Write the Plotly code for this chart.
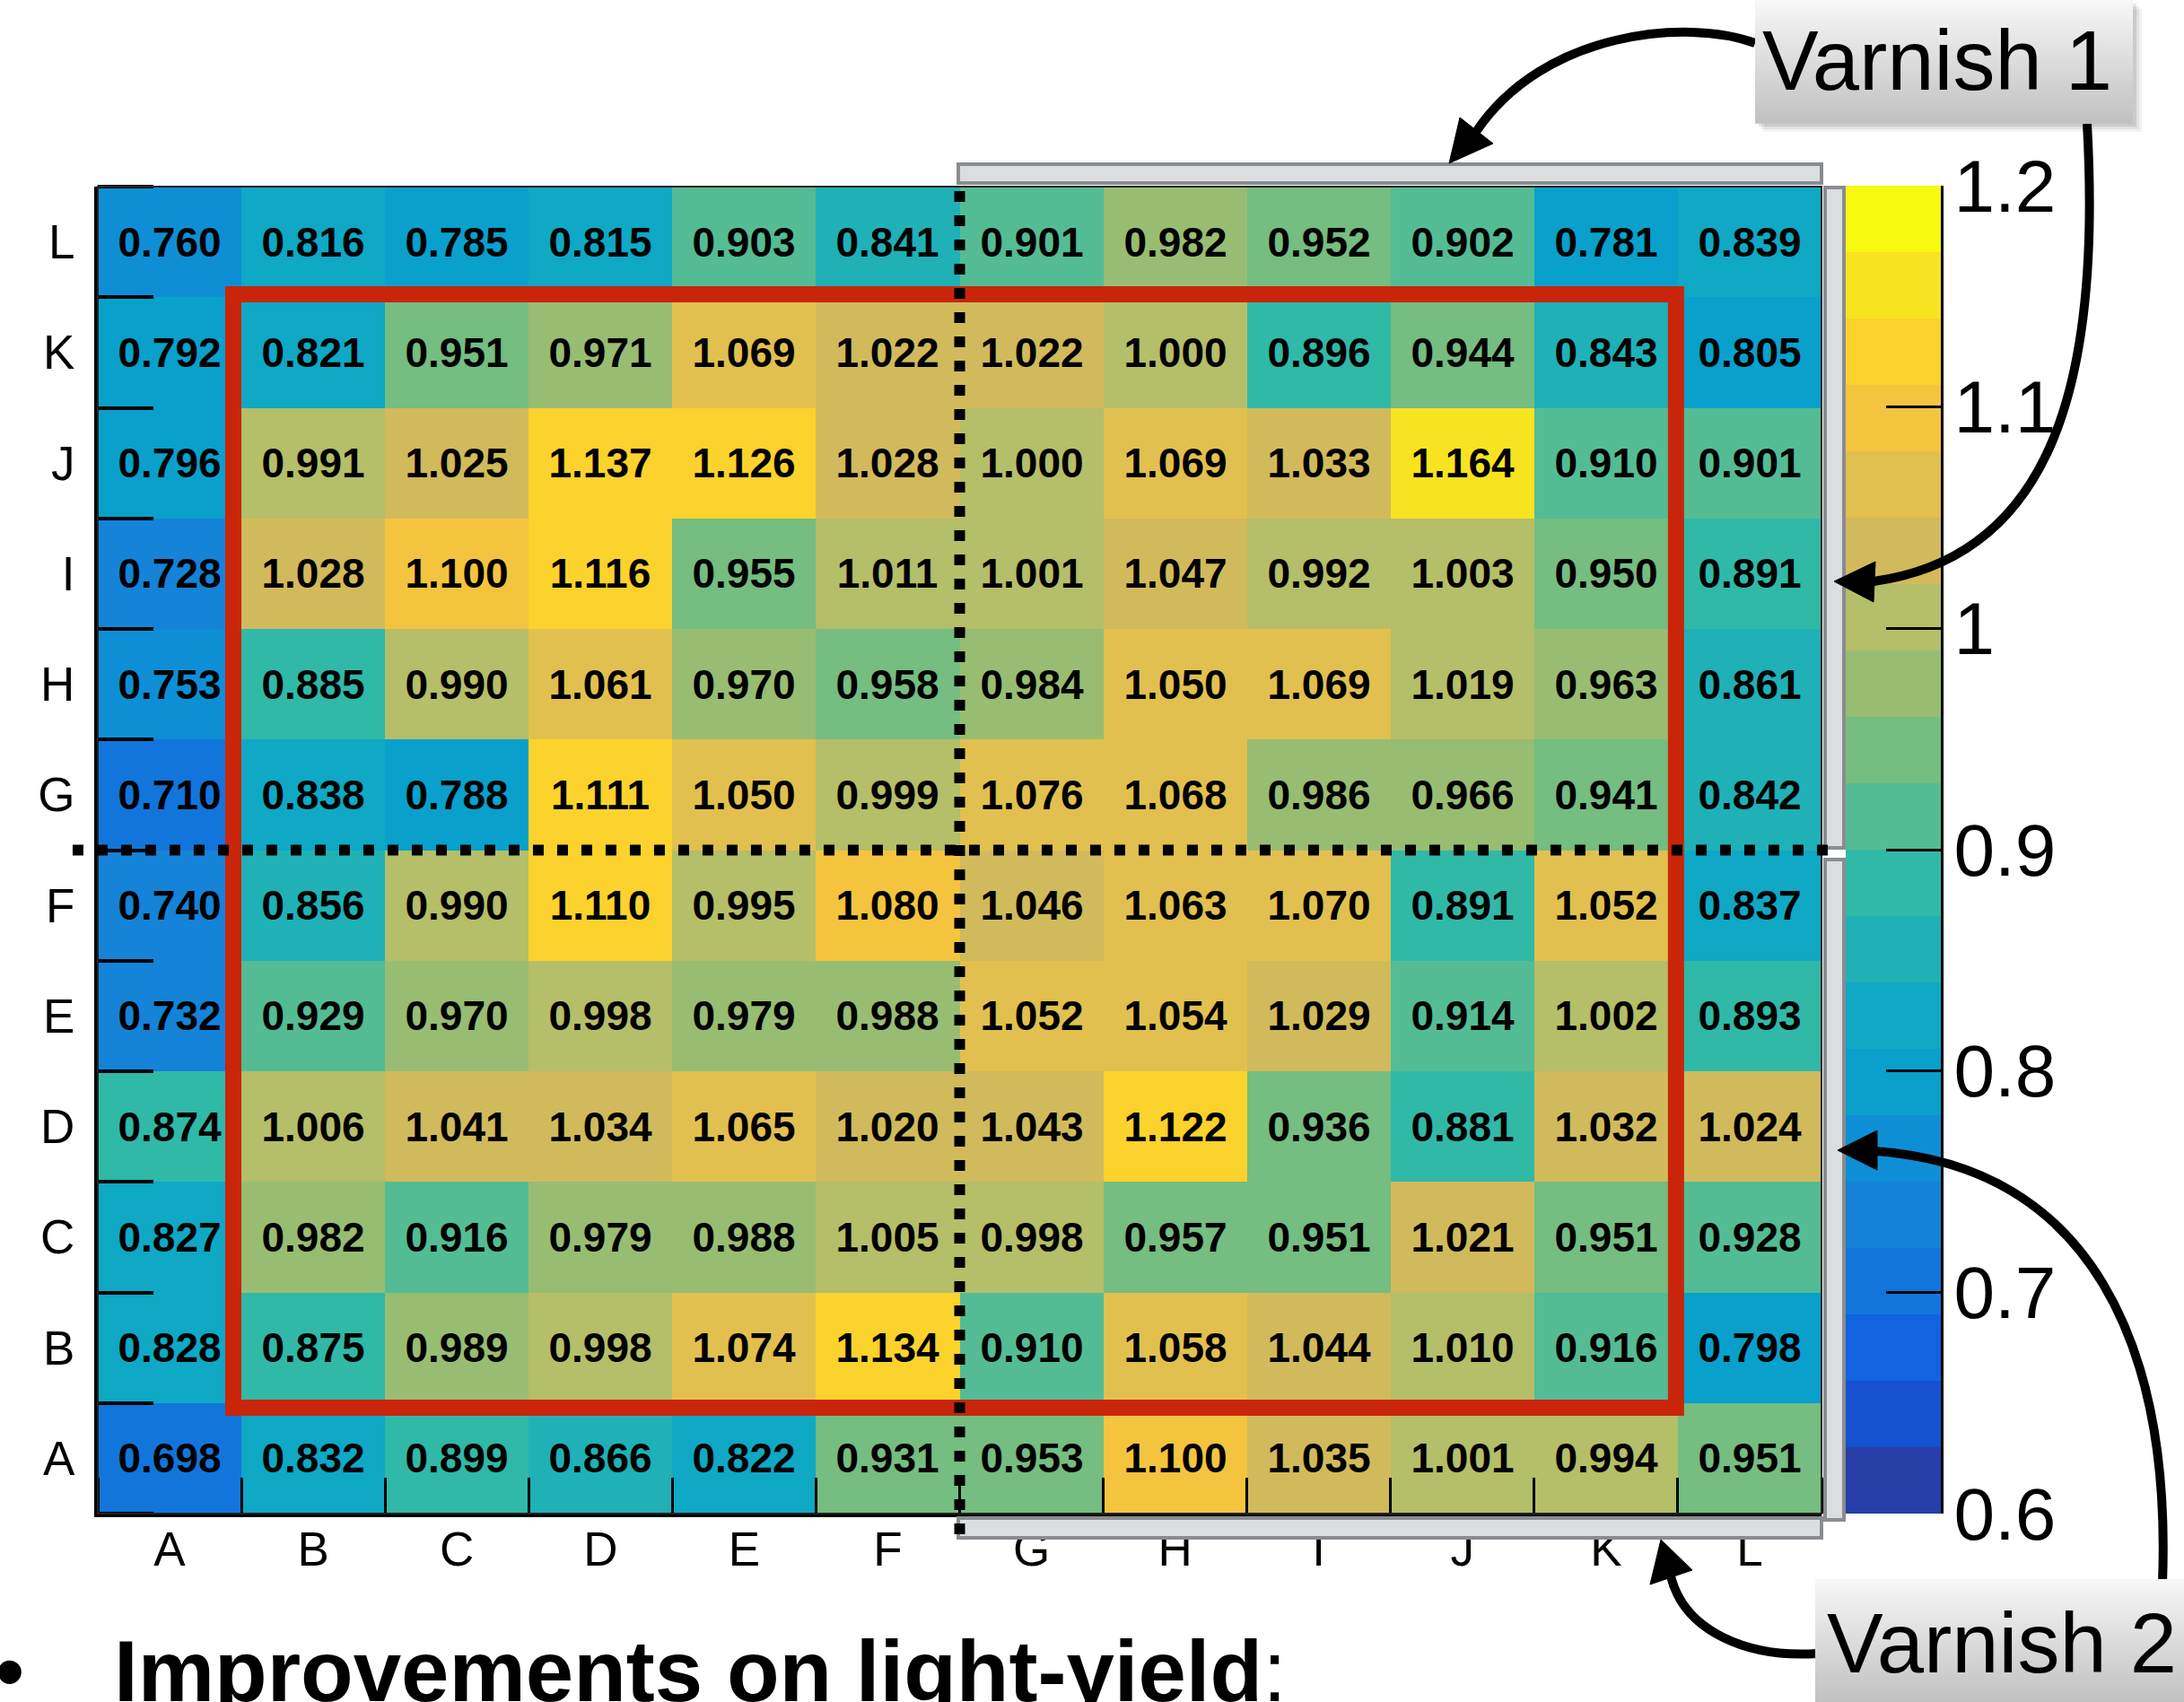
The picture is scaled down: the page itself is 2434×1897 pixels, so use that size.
import plotly.graph_objects as go

W, H = 2434, 1897
FONT = "Liberation Sans, Arial, Helvetica, sans-serif"

# ---------------- data ----------------
col_labels = ["A", "B", "C", "D", "E", "F", "G", "H", "I", "J", "K", "L"]
row_labels = ["A", "B", "C", "D", "E", "F", "G", "H", "I", "J", "K", "L"]  # bottom -> top

row_A = [0.698, 0.832, 0.899, 0.866, 0.822, 0.931, 0.953, 1.100, 1.035, 1.001, 0.994, 0.951]
row_B = [0.828, 0.875, 0.989, 0.998, 1.074, 1.134, 0.910, 1.058, 1.044, 1.010, 0.916, 0.798]
row_C = [0.827, 0.982, 0.916, 0.979, 0.988, 1.005, 0.998, 0.957, 0.951, 1.021, 0.951, 0.928]
row_D = [0.874, 1.006, 1.041, 1.034, 1.065, 1.020, 1.043, 1.122, 0.936, 0.881, 1.032, 1.024]
row_E = [0.732, 0.929, 0.970, 0.998, 0.979, 0.988, 1.052, 1.054, 1.029, 0.914, 1.002, 0.893]
row_F = [0.740, 0.856, 0.990, 1.110, 0.995, 1.080, 1.046, 1.063, 1.070, 0.891, 1.052, 0.837]
row_G = [0.710, 0.838, 0.788, 1.111, 1.050, 0.999, 1.076, 1.068, 0.986, 0.966, 0.941, 0.842]
row_H = [0.753, 0.885, 0.990, 1.061, 0.970, 0.958, 0.984, 1.050, 1.069, 1.019, 0.963, 0.861]
row_I = [0.728, 1.028, 1.100, 1.116, 0.955, 1.011, 1.001, 1.047, 0.992, 1.003, 0.950, 0.891]
row_J = [0.796, 0.991, 1.025, 1.137, 1.126, 1.028, 1.000, 1.069, 1.033, 1.164, 0.910, 0.901]
row_K = [0.792, 0.821, 0.951, 0.971, 1.069, 1.022, 1.022, 1.000, 0.896, 0.944, 0.843, 0.805]
row_L = [0.760, 0.816, 0.785, 0.815, 0.903, 0.841, 0.901, 0.982, 0.952, 0.902, 0.781, 0.839]

z_rows = [row_A, row_B, row_C, row_D, row_E, row_F, row_G, row_H, row_I, row_J, row_K, row_L]

z_min, z_max = 0.6, 1.2
cb_tickvals = [0.6, 0.7, 0.8, 0.9, 1.0, 1.1, 1.2]
cb_ticktext = ["0.6", "0.7", "0.8", "0.9", "1", "1.1", "1.2"]

# ---------------- style ----------------
band_colors = [
    "#263EA8", "#1651CF", "#1163DF", "#1275DC", "#1483D8",
    "#0E8FD5", "#09A0CC", "#0FA8C5", "#1FB1B6", "#30B9A7",
    "#54BC94", "#75BD80", "#98BD72", "#B5BE68", "#D1BA5B",
    "#E2C04F", "#F4C43F", "#FCD22D", "#F8E320", "#F7F90F",
]
n_bands = len(band_colors)
eps = 1e-6
colorscale = []
for i, c in enumerate(band_colors):
    lo = 0.0 if i == 0 else i / n_bands - eps
    hi = 1.0 if i == n_bands - 1 else (i + 1) / n_bands - eps
    colorscale.append([lo, c])
    colorscale.append([hi, c])

# colour key (palette drawn as its own heatmap so annotations can sit above it)
band_step = (z_max - z_min) / n_bands
key_edges = [z_min + band_step * i for i in range(n_bands + 1)]
key_z = [[z_min + band_step * (i + 0.5)] for i in range(n_bands)]

# plot geometry in pixels
PL, PR, PT, PB = 109, 2030, 208, 1687
CL, CR, CT, CB = 2057, 2163, 207, 1687


def px(x):
    return x / W


def py(y):
    return 1 - y / H


def P(x, y):
    return f"{px(x):.6f},{py(y):.6f}"


fig = go.Figure()
fig.add_trace(go.Heatmap(
    z=z_rows,
    x=list(range(len(col_labels))),
    y=list(range(len(row_labels))),
    zmin=z_min, zmax=z_max,
    colorscale=colorscale, showscale=False,
    texttemplate="%{z:.3f}",
    textfont=dict(family=FONT, size=46, color="black", weight="bold"),
    hoverinfo="skip",
))
fig.add_trace(go.Heatmap(
    z=key_z, x=[0, 1], y=key_edges,
    zmin=z_min, zmax=z_max, colorscale=colorscale, showscale=False,
    hoverinfo="skip", xaxis="x2", yaxis="y2",
))

shapes = []
annotations = []

# red rectangle (data coordinates)
shapes.append(dict(type="rect", xref="x", yref="y", x0=0.443, x1=10.487, y0=0.457, y1=10.526,
                   line=dict(color="#C9250B", width=18), fillcolor="rgba(0,0,0,0)", layer="above"))

# plot frame
shapes.append(dict(type="rect", xref="x domain", yref="y domain", x0=0, x1=1, y0=0, y1=1,
                   line=dict(color="#222222", width=2), fillcolor="rgba(0,0,0,0)", layer="above"))

# varnish bars
bar_fill, bar_line = "#DCDDDF", "#898C90"
for (x0, y0, x1, y1) in [(1068, 183, 2030, 204), (2034, 209, 2055, 945),
                         (2034, 958, 2055, 1694), (1068, 1692, 2030, 1714)]:
    shapes.append(dict(type="rect", xref="paper", yref="paper",
                       x0=px(x0), x1=px(x1), y0=py(y1), y1=py(y0),
                       fillcolor=bar_fill, line=dict(color=bar_line, width=4), layer="above"))

# dotted separators
dots = dict(color="black", width=12, dash="12px,15px")
shapes.append(dict(type="line", xref="x domain", yref="y domain", x0=0.5, x1=0.5,
                   y0=-0.0156, y1=1.0054, line=dots, layer="above"))
shapes.append(dict(type="line", xref="x domain", yref="y domain", x0=-0.0146, x1=1.0083,
                   y0=0.5, y1=0.5, line=dots, layer="above"))

# arrows
arrow_line = dict(color="black", width=10)
curves = [
    [(1956, 48), (1880, 20), (1720, 35), (1645, 147)],
    [(2326, 138), (2342, 420), (2290, 620), (2088, 648)],
    [(2025, 1843), (1950, 1848), (1878, 1820), (1862, 1757)],
    [(2410, 1765), (2420, 1500), (2330, 1300), (2090, 1283)],
]
heads = [
    [(1615, 182), (1627, 131), (1664, 160)],
    [(2044, 648), (2090, 626), (2088, 671)],
    [(1851, 1716), (1839, 1766), (1886, 1750)],
    [(2048, 1282), (2092, 1260), (2092, 1304)],
]
for c in curves:
    path = f"M {P(*c[0])} C {P(*c[1])} {P(*c[2])} {P(*c[3])}"
    shapes.append(dict(type="path", xref="paper", yref="paper", path=path,
                       line=arrow_line, layer="above"))
for h in heads:
    path = f"M {P(*h[0])} L {P(*h[1])} L {P(*h[2])} Z"
    shapes.append(dict(type="path", xref="paper", yref="paper", path=path,
                       fillcolor="black", line=dict(color="black", width=1), layer="above"))


def gradient_box(x0, y0, x1, y1, full_h, n=40):
    top = (247, 247, 247)
    bot = (192, 192, 192)
    for k, a in [(10, 0.05), (7, 0.07), (4, 0.09)]:
        shapes.append(dict(type="rect", xref="paper", yref="paper",
                           x0=px(x0 + k), x1=px(x1 + k), y0=py(y1 + k), y1=py(y0 + k),
                           fillcolor=f"rgba(0,0,0,{a})", line=dict(width=0), layer="above"))
    for i in range(n):
        ya = y0 + (y1 - y0) * i / n
        yb = y0 + (y1 - y0) * (i + 1) / n + 0.8
        t = min(1.0, (ya - y0) / full_h)
        col = "rgb({},{},{})".format(*[round(a + (b - a) * t) for a, b in zip(top, bot)])
        shapes.append(dict(type="rect", xref="paper", yref="paper",
                           x0=px(x0), x1=px(x1), y0=py(yb), y1=py(ya),
                           fillcolor=col, line=dict(width=0), layer="above"))


gradient_box(1956, 0, 2377, 137, 137)
gradient_box(2023, 1760, 2444, 1900, 137)

annotations.append(dict(text="Varnish 1", xref="paper", yref="paper", x=px(1962), y=py(67),
                        xanchor="left", yanchor="middle", showarrow=False,
                        font=dict(family=FONT, size=94, color="black")))
annotations.append(dict(text="Varnish 2", xref="paper", yref="paper", x=px(2034), y=py(1831),
                        xanchor="left", yanchor="middle", showarrow=False,
                        font=dict(family=FONT, size=94, color="black")))
annotations.append(dict(text="<b>Improvements on light-yield</b>:", xref="paper", yref="paper",
                        x=px(125), y=py(1862), xanchor="left", yanchor="middle", showarrow=False,
                        font=dict(family=FONT, size=96, color="black")))
annotations.append(dict(text="•", xref="paper", yref="paper",
                        x=px(-8), y=py(1862), xanchor="left", yanchor="middle", showarrow=False,
                        font=dict(family=FONT, size=96, color="black")))

fig.update_layout(
    width=W, height=H,
    margin=dict(l=0, r=0, t=0, b=0, pad=0, autoexpand=False),
    paper_bgcolor="white", plot_bgcolor="white",
    showlegend=False,
    shapes=shapes, annotations=annotations,
    xaxis=dict(
        domain=[px(PL), px(PR)], range=[-0.5, 11.5], fixedrange=True, automargin=False,
        tickmode="array", tickvals=list(range(len(col_labels))), ticktext=col_labels,
        ticks="", showgrid=False, zeroline=False,
        showline=True, linewidth=4, linecolor="black",
        tickfont=dict(family=FONT, size=53, color="black"),
        ticklabelstandoff=-10,
        minor=dict(tickmode="array", tickvals=[i - 0.5 for i in range(len(col_labels) + 1)],
                   ticks="inside", ticklen=40, tickwidth=3, tickcolor="black", showgrid=False),
    ),
    yaxis=dict(
        domain=[py(PB), py(PT)], range=[-0.5, 11.5], fixedrange=True, automargin=False,
        tickmode="array", tickvals=list(range(len(row_labels))), ticktext=row_labels,
        ticks="", showgrid=False, zeroline=False,
        showline=True, linewidth=4, linecolor="black",
        tickfont=dict(family=FONT, size=53, color="black"),
        ticklabelstandoff=11,
        minor=dict(tickmode="array", tickvals=[i - 0.5 for i in range(len(row_labels) + 1)],
                   ticks="inside", ticklen=62, tickwidth=4, tickcolor="black", showgrid=False),
    ),
    xaxis2=dict(
        domain=[px(CL), px(CR)], range=[0, 1], anchor="y2", fixedrange=True, automargin=False,
        showticklabels=False, ticks="", showgrid=False, zeroline=False, showline=False,
    ),
    yaxis2=dict(
        domain=[py(CB), py(CT)], range=[z_min, z_max], anchor="x2", side="right",
        fixedrange=True, automargin=False,
        tickmode="array", tickvals=cb_tickvals, ticktext=cb_ticktext,
        ticks="inside", ticklen=61, tickwidth=3, tickcolor="black",
        showgrid=False, zeroline=False, showline=True, linewidth=3, linecolor="black",
        tickfont=dict(family=FONT, size=82, color="black"),
        ticklabelstandoff=-5,
    ),
)

fig.write_html("out.html", include_plotlyjs=True, full_html=True,
               config={"displayModeBar": False},
               post_script="document.body.style.margin='0';document.body.style.overflow='hidden';")
